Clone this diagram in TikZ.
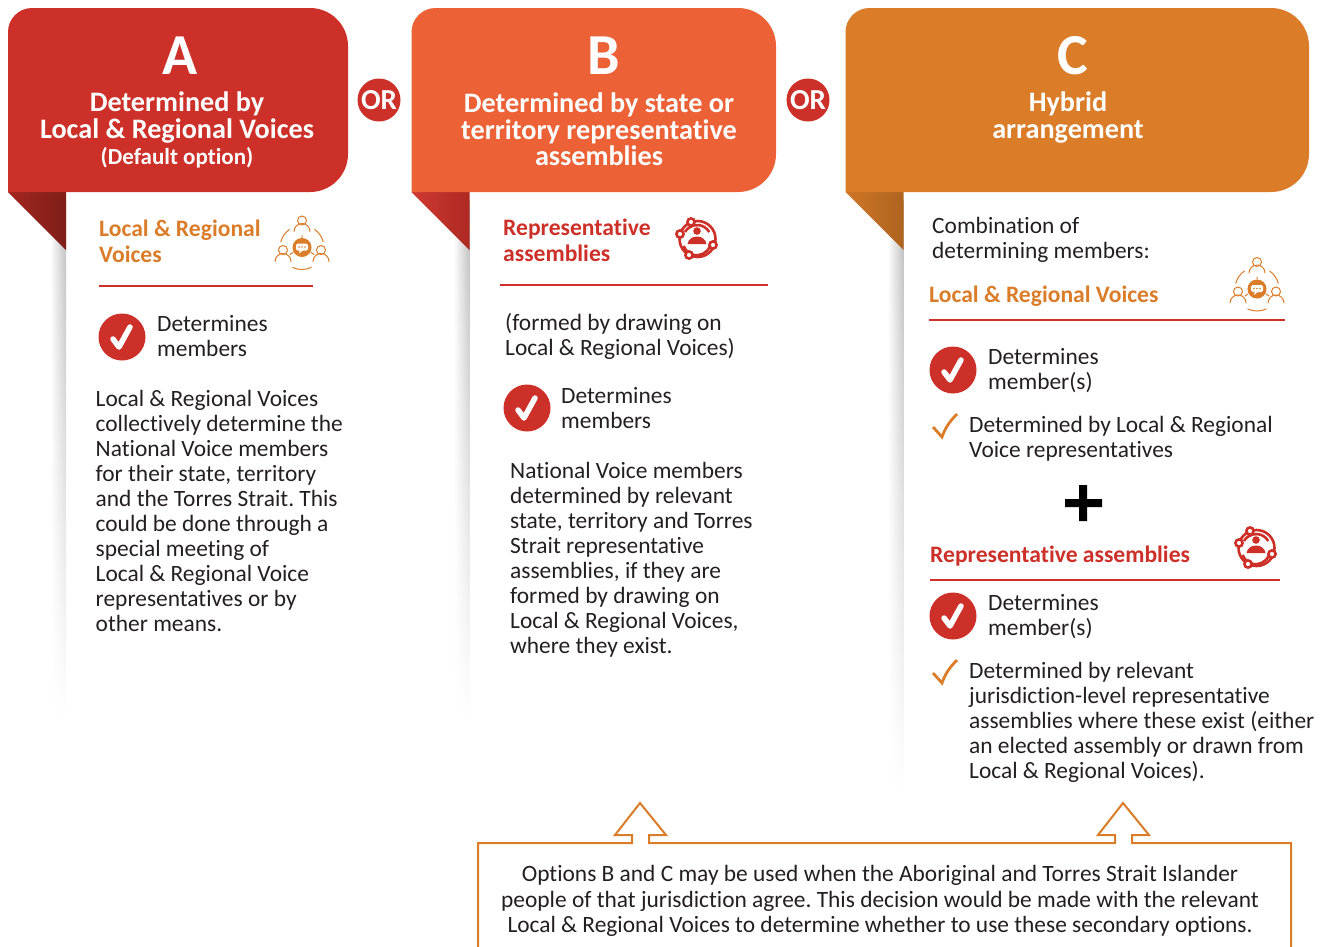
\documentclass[tikz,border=0pt]{standalone}
\usepackage{fontspec}
\setmainfont{Carlito}[Ligatures=NoCommon]
\usetikzlibrary{positioning,fadings,calc}
\definecolor{optA}{HTML}{CC3028}
\definecolor{optB}{HTML}{EC6236}
\definecolor{optC}{HTML}{DA7C28}
\definecolor{inkc}{HTML}{231F20}
\tikzfading[name=shadowfade, top color=transparent!0, middle color=transparent!15, bottom color=transparent!100]
\tikzset{
  bodytext/.style={anchor=north west, inner sep=0pt, align=left, text=inkc, font=\fontsize{23.4}{25}\selectfont},
  headtext/.style={inner sep=0pt, align=center, text=white, font=\bfseries\fontsize{28.2}{26.5}\selectfont},
  lettertext/.style={inner sep=0pt, text=white, font=\bfseries\fontsize{58}{58}\selectfont},
  secorange/.style={anchor=north west, inner sep=0pt, align=left, text=optC, font=\bfseries\fontsize{23.6}{26}\selectfont},
  secred/.style={anchor=north west, inner sep=0pt, align=left, text=optA, font=\bfseries\fontsize{23.6}{26}\selectfont},
  ordisc/.style={circle, fill=optA, text=white, minimum size=43pt, inner sep=0pt, font=\bfseries\fontsize{29}{29}\selectfont},
  secrule/.style={draw=optA, line width=1.6pt},
  callout/.style={draw=optC, line width=2pt}
}
\newcommand\tabshape[3]{% left, right, fill
  \fill [#3] (#1,192) -- (#1,32) arc[start angle=180, end angle=270, radius=24] -- (#2-38,8) arc[start angle=270, end angle=360, radius=38] -- (#2,154) arc[start angle=0, end angle=90, radius=38] -- cycle;
}
\newcommand\sidecolumn[4]{% left, bottom, fold from, fold to
  \shade [left color=white, right color=black!26, path fading=shadowfade] (#1+42,200) rectangle (#1+58,#2);
  \shade [left color=#3, right color=#4] (#1,192) -- (#1+58,192) -- (#1+58,250) -- cycle;
}
\newcommand\checkbadge[1]{%
  \fill [optA] (#1) circle (23.5);
  \draw [white, line width=5.5pt, line cap=round, line join=round] ($(#1)+(-9,2)$) -- ($(#1)+(-3,10)$) -- ($(#1)+(8,-10)$);
}
\newcommand\tickmark[1]{%
  \draw [optC, line width=2.8pt, line join=miter] ($(#1)+(-12,0)$) -- ($(#1)+(-3,10)$) .. controls ($(#1)+(0,1)$) and ($(#1)+(5,-6)$) .. ($(#1)+(12,-13)$);
}
\newcommand\voiceicon[1]{%
  \begin{scope}[shift={(#1)}, draw=optC, line width=1pt, line cap=round]
    \draw (0,-23) circle (4.5);
    \draw (-8,-12) arc[start angle=180, end angle=360, radius=8];
    \draw (-19,6.5) circle (4.5);
    \draw (-27,18) arc[start angle=180, end angle=360, radius=8];
    \draw (19,6.5) circle (4.5);
    \draw (11,18) arc[start angle=180, end angle=360, radius=8];
    \draw (0,4) ++(195:22) arc[start angle=195, end angle=235, radius=22];
    \draw (0,4) ++(305:22) arc[start angle=305, end angle=345, radius=22];
    \draw (0,4) ++(65:22) arc[start angle=65, end angle=115, radius=22];
    \fill [optC] (0,4) circle (9.5);
    \fill [white, rounded corners=1.5pt] (-6,0) rectangle (6,7);
    \fill [white] (-2,6) -- (2,6) -- (-3,10) -- cycle;
    \fill [optC] (-3,3.5) circle (.9) (0,3.5) circle (.9) (3,3.5) circle (.9);
    \draw (0,-8) -- (0,-6) (-12,11) -- (-9,9) (12,11) -- (9,9);
  \end{scope}
}
\newcommand\assemblyicon[1]{%
  \begin{scope}[shift={(#1)}, draw=optA, line width=2.6pt]
    \draw (0.5,0) circle (18);
    \draw (-12,-7) arc[start angle=210, end angle=330, radius=14];
    \draw (13,7) arc[start angle=20, end angle=160, radius=14];
    \fill [optA] (0,-8) circle (3.8);
    \fill [optA] (-9.5,5) .. controls (-8,-5) and (8,-5) .. (9.5,5) -- cycle;
    \draw [fill=white] (-6,-17) circle (3.6);
    \draw [fill=white] (-17,-5) circle (3.6);
    \draw [fill=white] (16,6) circle (3.6);
    \draw [fill=white] (-8,16) circle (3.6);
  \end{scope}
}
\begin{document}
\frenchspacing
\begin{tikzpicture}[x=1pt, y=-1pt]
\useasboundingbox (0,0) rectangle (1324,946);

% option A
\sidecolumn{8}{720}{optA!80!black}{optA!62!black}
\tabshape{8}{348}{optA}
\node [lettertext] (letterA) at (180,56) {A};
\node [headtext] (headA) at (177,117.5) {Determined by\\Local \& Regional Voices};
\node [headtext, font=\bfseries\fontsize{23}{25}\selectfont] (noteA) at (177,158) {(Default option)};
\node [secorange] (secA) at (99,220) {Local \& Regional\\Voices};
\voiceicon{302,243.5}
\draw [secrule] (99,286) -- (313,286);
\coordinate (badgeA) at (122,337);
\checkbadge{badgeA}
\node [bodytext] (detA) at (157,315) {Determines\\members};
\node [bodytext] (bodyA) at (95.5,390) {Local \& Regional Voices\\collectively determine the\\National Voice members\\for their state, territory\\and the Torres Strait. This\\could be done through a\\special meeting of\\Local \& Regional Voice\\representatives or by\\other means.};

\node [ordisc] (orAB) at (379,100) {OR};

% option B
\sidecolumn{411.5}{720}{optA!95!white}{optA!85!black}
\tabshape{411.5}{776}{optB}
\node [lettertext] (letterB) at (604,56) {B};
\node [headtext] (headB) at (599,129.5) {Determined by state or\\territory representative\\assemblies};
\node [secred] (secB) at (503,219) {Representative\\assemblies};
\assemblyicon{697,239}
\draw [secrule] (500,285) -- (768,285);
\node [bodytext] (formedB) at (505,313) {(formed by drawing on\\Local \& Regional Voices)};
\coordinate (badgeB) at (527,408);
\checkbadge{badgeB}
\node [bodytext] (detB) at (561,387) {Determines\\members};
\node [bodytext] (bodyB) at (510,462) {National Voice members\\determined by relevant\\state, territory and Torres\\Strait representative\\assemblies, if they are\\formed by drawing on\\Local \& Regional Voices,\\where they exist.};

\node [ordisc] (orBC) at (808,100) {OR};

% option C
\sidecolumn{845.5}{795}{optC!95!black}{optC!80!black}
\tabshape{845.5}{1309}{optC}
\node [lettertext] (letterC) at (1073,56) {C};
\node [headtext] (headC) at (1068,117.5) {Hybrid\\arrangement};
\node [bodytext] (introC) at (932,217) {Combination of\\determining members:};
\node [secorange] (secC1) at (929,286) {Local \& Regional Voices};
\voiceicon{1257,285}
\draw [secrule] (929,320) -- (1285,320);
\coordinate (badgeC1) at (953,370);
\checkbadge{badgeC1}
\node [bodytext] (detC1) at (988,348) {Determines\\member(s)};
\coordinate (tickC1) at (945,427);
\tickmark{tickC1}
\node [bodytext] (byC1) at (969,416) {Determined by Local \& Regional\\Voice representatives};
\fill [black] (1079,485) rectangle (1087,521) (1065,499) rectangle (1102,507);
\node [secred] (secC2) at (930,546) {Representative assemblies};
\assemblyicon{1256,548}
\draw [secrule] (930,580) -- (1280,580);
\coordinate (badgeC2) at (953,616);
\checkbadge{badgeC2}
\node [bodytext] (detC2) at (988,594) {Determines\\member(s)};
\coordinate (tickC2) at (945,673);
\tickmark{tickC2}
\node [bodytext] (byC2) at (969,662) {Determined by relevant\\jurisdiction-level representative\\assemblies where these exist (either\\an elected assembly or drawn from\\Local \& Regional Voices).};

% note with its two arrows
\draw [callout, line join=miter] (478,950) -- (478,843) -- (632,843) -- (632,835) -- (615,835) -- (640,803) -- (666,835) -- (649,835) -- (649,843) -- (1115,843) -- (1115,835) -- (1098,835) -- (1123,803) -- (1149,835) -- (1132,835) -- (1132,843) -- (1291,843) -- (1291,950);
\node [inner sep=0pt, align=center, text=inkc, font=\fontsize{23.4}{25.5}\selectfont] (noteBC) at (880,901) {Options B and C may be used when the Aboriginal and Torres Strait Islander\\people of that jurisdiction agree. This decision would be made with the relevant\\Local \& Regional Voices to determine whether to use these secondary options.};
\end{tikzpicture}
\end{document}
